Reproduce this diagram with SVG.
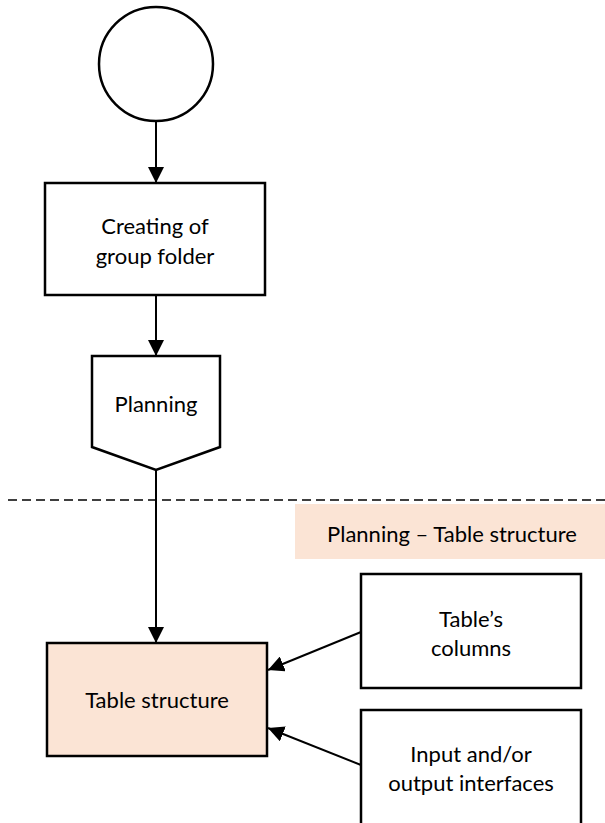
<svg xmlns="http://www.w3.org/2000/svg" width="605" height="823" viewBox="0 0 605 823">
<style>
.node{fill:#fff;stroke:#000;stroke-width:2.5}
.hl{fill:#FBE4D5}
.t{font-family:Lato,"Liberation Sans",sans-serif;font-size:22px;fill:#000;text-anchor:middle;dominant-baseline:central}
.c{stroke:#000;stroke-width:2;fill:none}
</style>
<defs>
<marker id="ah" markerUnits="userSpaceOnUse" markerWidth="16" markerHeight="16" viewBox="0 0 16 16" refX="16" refY="8" orient="auto">
<path d="M0,0 L16,8 L0,16 Z" fill="#000"/>
</marker>
</defs>
<rect x="295" y="504" width="310" height="55" class="hl"/>
<line x1="8" y1="500" x2="605" y2="500" stroke="#000" stroke-width="1.6" stroke-dasharray="9 5"/>
<g id="connectors">
<line class="c" x1="156" y1="121" x2="156" y2="183" marker-end="url(#ah)"/>
<line class="c" x1="156" y1="295" x2="156" y2="356" marker-end="url(#ah)"/>
<line class="c" x1="156" y1="470" x2="156" y2="643" marker-end="url(#ah)"/>
<line class="c" x1="361" y1="632" x2="268" y2="670" marker-end="url(#ah)"/>
<line class="c" x1="361" y1="765" x2="268" y2="728" marker-end="url(#ah)"/>
</g>
<g id="start"><circle cx="156" cy="64" r="57" class="node"/></g>
<g id="create"><rect x="45" y="183" width="220" height="112" class="node"/>
<text class="t" x="155" y="225">Creating of</text><text class="t" x="155" y="255">group folder</text></g>
<g id="planning"><path d="M92,356 H220 V447 L156,470 L92,447 Z" class="node"/>
<text class="t" x="156" y="403">Planning</text></g>
<g id="label"><text class="t" x="452" y="533">Planning – Table structure</text></g>
<g id="table"><rect x="47" y="643" width="220" height="113" class="node" style="fill:#FBE4D5"/>
<text class="t" x="157" y="699">Table structure</text></g>
<g id="columns"><rect x="361" y="574" width="220" height="114" class="node"/>
<text class="t" x="471" y="618">Table’s</text><text class="t" x="471" y="647">columns</text></g>
<g id="io"><rect x="361" y="710" width="220" height="120" class="node"/>
<text class="t" x="471" y="753">Input and/or</text><text class="t" x="471" y="782">output interfaces</text></g>
</svg>
